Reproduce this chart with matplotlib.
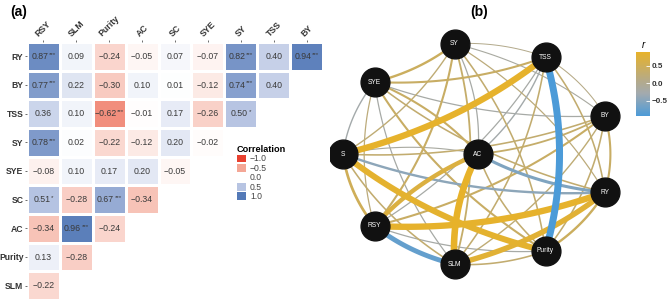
import numpy as np
import matplotlib.pyplot as plt
from matplotlib.colors import LinearSegmentedColormap, Normalize
from matplotlib.patches import Patch

plt.rcParams["font.family"] = ["Liberation Sans", "DejaVu Sans"]

# ---------------------------
# Data: (a) correlation heatmap
# ---------------------------
rows = ["RY", "BY", "TSS", "SY", "SYE", "SC", "AC", "Purity", "SLM"]
cols = ["RSY", "SLM", "Purity", "AC", "SC", "SYE", "SY", "TSS", "BY"]

corr = [
    [0.87, 0.09, -0.24, -0.05, 0.07, -0.07, 0.82, 0.40, 0.94],
    [0.77, 0.22, -0.30, 0.10, 0.01, -0.12, 0.74, 0.40],
    [0.36, 0.10, -0.62, -0.01, 0.17, -0.26, 0.50],
    [0.78, 0.02, -0.22, -0.12, 0.20, -0.02],
    [-0.08, 0.10, 0.17, 0.20, -0.05],
    [0.51, -0.28, 0.67, -0.34],
    [-0.34, 0.96, -0.24],
    [0.13, -0.28],
    [-0.22],
]
stars = [
    ["***", "", "", "", "", "", "***", "", "***"],
    ["***", "", "", "", "", "", "***", ""],
    ["", "", "***", "", "", "", "*"],
    ["***", "", "", "", "", ""],
    ["", "", "", "", ""],
    ["*", "", "***", ""],
    ["", "***", ""],
    ["", ""],
    [""],
]
legend_vals = [-1.0, -0.5, 0.0, 0.5, 1.0]

# ---------------------------
# Data: (b) correlation network
# ---------------------------
ring_nodes = ["SY", "TSS", "BY", "RY", "Purity", "SLM", "RSY", "S", "SYE"]
hub_node = "AC"
edge_from = ["SY", "SY", "SY", "SY", "SY", "SY", "SY", "SY", "SY",
             "TSS", "TSS", "TSS", "TSS", "TSS", "TSS", "TSS", "TSS",
             "BY", "BY", "BY", "BY", "BY", "BY", "BY",
             "RY", "RY", "RY", "RY", "RY", "RY",
             "Purity", "Purity", "Purity", "Purity", "Purity",
             "SLM", "SLM", "SLM", "SLM",
             "RSY", "RSY", "RSY",
             "S", "S",
             "SYE"]
edge_to = ["TSS", "BY", "RY", "Purity", "SLM", "RSY", "S", "SYE", "AC",
           "BY", "RY", "Purity", "SLM", "RSY", "S", "SYE", "AC",
           "RY", "Purity", "SLM", "RSY", "S", "SYE", "AC",
           "Purity", "SLM", "RSY", "S", "SYE", "AC",
           "SLM", "RSY", "S", "SYE", "AC",
           "RSY", "S", "SYE", "AC",
           "S", "SYE", "AC",
           "SYE", "AC",
           "AC"]
edge_r = [0.05, -0.15, 0.20, 0.30, 0.35, 0.40, 0.25, 0.45, -0.20,
          0.10, 0.30, -0.93, 0.30, -0.20, 0.88, 0.40, -0.25,
          0.40, 0.30, 0.25, 0.40, 0.30, -0.20, 0.35,
          0.45, 0.80, 0.88, -0.45, 0.30, -0.55,
          0.30, -0.20, 0.85, 0.40, 0.30,
          -0.75, 0.30, -0.20, 0.90,
          0.50, 0.20, 0.70,
          -0.25, -0.15,
          0.40]

# ---------------------------
# Figure
# ---------------------------
W, H = 669, 302
fig = plt.figure(figsize=(W / 100, H / 100), dpi=100)


def frac(x0, y0, x1, y1):
    # pixel box -> figure fraction [left, bottom, width, height]
    return [x0 / W, 1 - y1 / H, (x1 - x0) / W, (y1 - y0) / H]


# ---------------------------
# (a) Heatmap
# ---------------------------
heat_cmap = LinearSegmentedColormap.from_list(
    "heat", ["#E8412F", "#F4A796", "#FFFFFF", "#B8C5E3", "#5379B7"])
heat_norm = Normalize(-1, 1)

n = len(rows)
M = np.full((n, len(cols)), np.nan)
for i, row in enumerate(corr):
    M[i, :len(row)] = row

ax1 = fig.add_axes(frac(27, 42, 323, 300))
ax1.pcolormesh(np.ma.masked_invalid(M), cmap=heat_cmap, norm=heat_norm,
               edgecolors="white", linewidth=1.0)
ax1.set_xlim(0, len(cols))
ax1.set_ylim(n, 0)
for i, row in enumerate(corr):
    for j, v in enumerate(row):
        txt = f"{v:.2f}".replace("-", "\u2212")
        st = stars[i][j]
        shift = 0.075 * len(st) / 2
        num = ax1.text(j + 0.5 - shift, i + 0.5, txt, ha="center",
                       va="center", fontsize=6.3, color="#3a3a3a")
        if st:
            ax1.annotate(st, xy=(1, 0.75), xycoords=num, xytext=(0.3, 0),
                         textcoords="offset points", ha="left",
                         va="center", fontsize=4.5, color="#3a3a3a")

ax1.set_yticks(np.arange(n) + 0.5)
ax1.set_yticklabels(rows, fontsize=6.2, fontweight="bold", color="#333333")
ax1.xaxis.tick_top()
ax1.set_xticks(np.arange(len(cols)) + 0.5)
ax1.set_xticklabels(cols, fontsize=6.3, fontweight="bold", color="#333333",
                    rotation=45, ha="center", va="bottom")
ax1.tick_params(length=1.8, width=0.6, color="#555555", pad=0.8)
for s in ax1.spines.values():
    s.set_visible(False)

handles = []
for v in legend_vals:
    handles.append(Patch(facecolor=heat_cmap(heat_norm(v)), edgecolor="none",
                         label=f"{v:.1f}".replace("-", "\u2212")))
leg = fig.legend(handles=handles, loc="upper left",
                 bbox_to_anchor=(231 / W, 1 - 139 / H), frameon=False,
                 fontsize=6.2, title="Correlation", title_fontsize=6.6,
                 handlelength=1.0, handleheight=1.0, handletextpad=0.5,
                 labelspacing=0.05, alignment="left", borderpad=0.2)
leg.get_title().set_fontweight("bold")
for t in leg.get_texts():
    t.set_color("#444444")

fig.text(10 / W, 1 - 12 / H, "(a)", fontsize=10, fontweight="bold",
         ha="left", va="center")

# ---------------------------
# (b) Network
# ---------------------------
net_cmap = LinearSegmentedColormap.from_list(
    "net", [(0.0, "#4C9BD8"), (0.35, "#A2AAAF"), (0.55, "#B4AA8A"),
            (1.0, "#E7B22A")])
net_norm = Normalize(-0.93, 0.9)

cx, cy, rx, ry = 478, 154, 135, 112
x0, x1, y0, y1 = 330, 628, 20, 298
ax2 = fig.add_axes(frac(x0, y0, x1, y1))
ax2.set_xlim((x0 - cx) / rx, (x1 - cx) / rx)
ax2.set_ylim((cy - y1) / ry, (cy - y0) / ry)
ax2.axis("off")

pos = {}
for k, name in enumerate(ring_nodes):
    ang = np.deg2rad(100 - 40 * k)
    pos[name] = np.array([np.cos(ang), np.sin(ang)])
pos[hub_node] = np.array([0.0, 0.0])

order = np.argsort(np.abs(edge_r))
t = np.linspace(0, 1, 60)[:, None]
for idx in order:
    p0 = pos[edge_from[idx]]
    p1 = pos[edge_to[idx]]
    d = p1 - p0
    ctrl = (p0 + p1) / 2 + 0.12 * np.array([-d[1], d[0]])
    pts = (1 - t) ** 2 * p0 + 2 * (1 - t) * t * ctrl + t ** 2 * p1
    r = edge_r[idx]
    ax2.plot(pts[:, 0], pts[:, 1], color=net_cmap(net_norm(r)),
             lw=0.7 + 5.0 * r ** 2, solid_capstyle="butt", zorder=2)

for name, p in pos.items():
    ax2.scatter(p[0], p[1], s=430, color="#111111", zorder=5)
    ax2.text(p[0], p[1], name, color="white", fontsize=4.8,
             ha="center", va="center", zorder=6)

fig.text(479 / W, 1 - 12 / H, "(b)", fontsize=10, fontweight="bold",
         ha="center", va="center")

cax = fig.add_axes(frac(636, 52, 650, 116))
sm = plt.cm.ScalarMappable(cmap=net_cmap, norm=net_norm)
cb = fig.colorbar(sm, cax=cax, ticks=[0.5, 0.0, -0.5])
cb.outline.set_visible(False)
cb.ax.set_yticklabels(["0.5", "0.0", "\u22120.5"])
cb.ax.tick_params(labelsize=5.8, length=3, width=0.6, color="white",
                  direction="in", pad=1.5)
for lab in cb.ax.get_yticklabels():
    lab.set_fontweight("bold")
    lab.set_color("#333333")
fig.text(643 / W, 1 - 45 / H, "r", fontsize=7, fontstyle="italic",
         ha="center", va="center")

fig.savefig("out.png", dpi=100, facecolor="white")
